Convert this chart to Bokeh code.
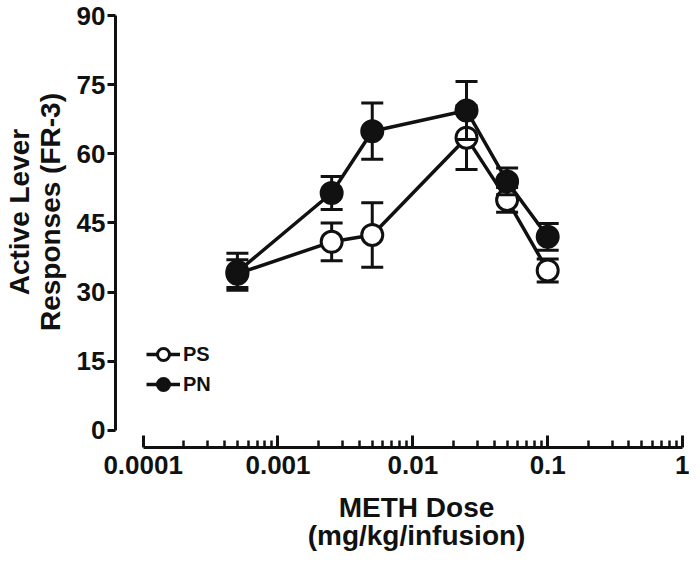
from bokeh.plotting import figure
from bokeh.models import (Range1d, FixedTicker, CustomJSTickFormatter, Legend, LegendItem,
                          ColumnDataSource)
from bokeh.embed import file_html
from bokeh.resources import INLINE

# ---- data ----
dose = [0.0005, 0.0025, 0.005, 0.025, 0.05, 0.1]
ps_mean = [34.0, 40.9, 42.4, 63.5, 50.0, 34.7]
ps_sem = [3.0, 4.1, 7.0, 6.9, 2.7, 2.5]
pn_mean = [34.4, 51.5, 64.9, 69.4, 54.0, 42.0]
pn_sem = [4.0, 3.6, 6.1, 6.3, 2.9, 2.9]

x_tick_vals = [0.0001, 0.001, 0.01, 0.1, 1]
x_tick_labels = ["0.0001", "0.001", "0.01", "0.1", "1"]
x_minor_mult = [2, 3, 4, 5, 6, 7, 8, 9]
y_tick_vals = [0, 15, 30, 45, 60, 75, 90]

FONT = "Liberation Sans"
BLACK = "#111111"
NB = "\u00a0"

p = figure(frame_width=571, frame_height=432, x_axis_type="log",
           x_range=Range1d(10 ** -4.205, 10 ** 0.0293),
           y_range=Range1d(-3.71, 90),
           output_backend="svg", toolbar_location=None,
           min_border_left=108, min_border_right=3, min_border_top=15,
           min_border_bottom=100)
p.grid.visible = False
p.outline_line_color = None
p.background_fill_color = "white"
p.border_fill_color = "white"

def err_src(mean, sem):
    return ColumnDataSource(dict(
        x=dose, y=mean,
        lo=[m - s for m, s in zip(mean, sem)],
        hi=[m + s for m, s in zip(mean, sem)]))

legend_items = []
for name, mean, sem, fill in [("PS", ps_mean, ps_sem, "white"),
                              ("PN", pn_mean, pn_sem, BLACK)]:
    src = err_src(mean, sem)
    p.segment(x0="x", y0="lo", x1="x", y1="hi", source=src,
              line_color=BLACK, line_width=3)
    p.scatter(x="x", y="hi", source=src, marker="dash", size=22,
              line_color=BLACK, line_width=3)
    p.scatter(x="x", y="lo", source=src, marker="dash", size=22,
              line_color=BLACK, line_width=3)
    ln = p.line(x="x", y="y", source=src, line_color=BLACK, line_width=3.5)
    mk = p.scatter(x="x", y="y", source=src, marker="circle", size=21,
                   fill_color=fill, line_color=BLACK, line_width=3)
    legend_items.append(LegendItem(label=name, renderers=[ln, mk]))

# ---- axes ----
xa = p.xaxis[0]
xa.ticker = FixedTicker(ticks=x_tick_vals,
                        minor_ticks=[m * v for v in x_tick_vals[:-1] for m in x_minor_mult])
xa.formatter = CustomJSTickFormatter(args=dict(vals=x_tick_vals, labs=x_tick_labels), code="""
let best = 0;
for (let i = 0; i < vals.length; i++) {
  if (Math.abs(Math.log10(vals[i]) - Math.log10(tick)) <
      Math.abs(Math.log10(vals[best]) - Math.log10(tick))) best = i;
}
return labs[best];
""")
xa.bounds = (x_tick_vals[0], x_tick_vals[-1])
xa.major_tick_in = 12
xa.major_tick_out = 0
xa.minor_tick_in = 7
xa.minor_tick_out = 0
xa.major_label_standoff = 8
xa.axis_label = NB * 4 + "METH Dose\n" + NB * 4 + "(mg/kg/infusion)"
xa.axis_label_standoff = 15

ya = p.yaxis[0]
ya.ticker = FixedTicker(ticks=y_tick_vals, minor_ticks=[])
ya.bounds = (y_tick_vals[0], y_tick_vals[-1])
ya.major_tick_in = 0
ya.major_tick_out = 8
ya.minor_tick_in = 0
ya.minor_tick_out = 0
ya.major_label_standoff = 2
ya.axis_label = NB * 5 + "Active Lever\n" + NB * 5 + "Responses (FR-3)"
ya.axis_label_standoff = 8

for ax in (xa, ya):
    ax.axis_line_width = 3
    ax.axis_line_color = BLACK
    ax.major_tick_line_width = 3
    ax.major_tick_line_color = BLACK
    ax.minor_tick_line_width = 2.5
    ax.minor_tick_line_color = BLACK
    ax.major_label_text_font = FONT
    ax.major_label_text_font_style = "bold"
    ax.major_label_text_font_size = "26px"
    ax.major_label_text_color = BLACK
    ax.axis_label_text_font = FONT
    ax.axis_label_text_font_style = "bold"
    ax.axis_label_text_font_size = "28px"
    ax.axis_label_text_color = BLACK
xa.axis_label_text_line_height = 0.92
ya.axis_label_text_line_height = 1.0

legend = Legend(items=legend_items, location=(31, 48),
                glyph_width=34, glyph_height=30, label_height=30,
                label_standoff=3, spacing=0, padding=0, margin=0,
                border_line_color=None, background_fill_alpha=0,
                label_text_font=FONT, label_text_font_style="bold",
                label_text_font_size="20px", label_text_color=BLACK)
p.add_layout(legend, "center")

open("out.html", "w").write(file_html(p, INLINE))
